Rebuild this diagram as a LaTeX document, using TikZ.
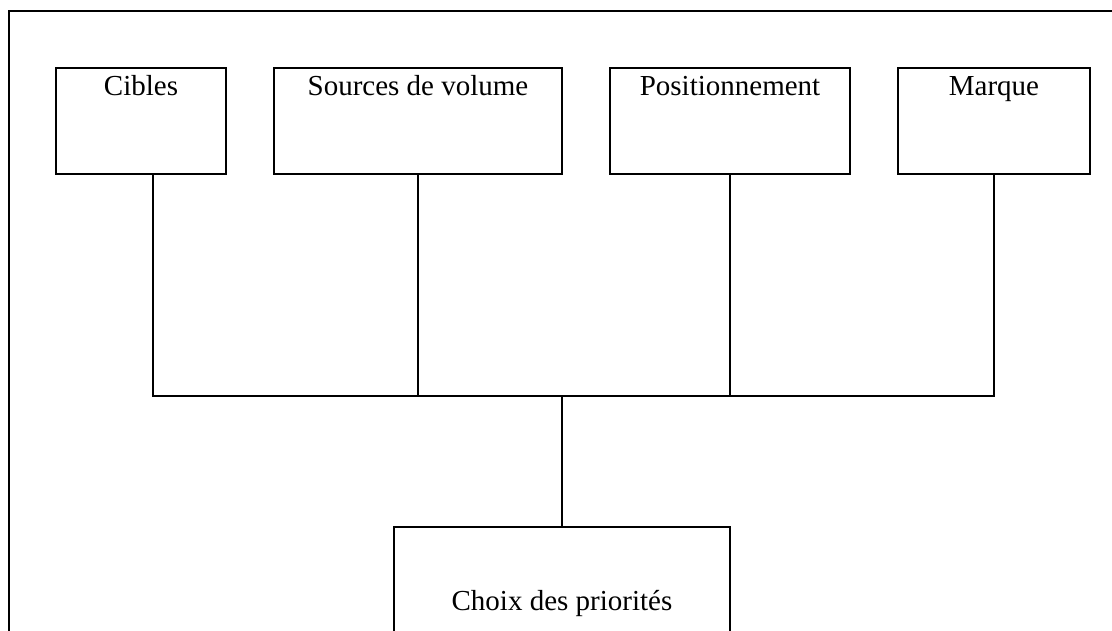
\documentclass[tikz,border=0pt]{standalone}
\usepackage{fontspec}
\setmainfont{Liberation Serif}
\begin{document}
\begin{tikzpicture}[x=1pt,y=-1pt,
  line width=2.8pt,
  every node/.style={outer sep=0pt},
  boxnode/.style={draw, rectangle, inner sep=0pt, anchor=north west, minimum height=106pt},
  lbl/.style={anchor=base, inner sep=0pt, font=\fontsize{29}{34}\selectfont}]
\useasboundingbox (0,0) rectangle (1112,630);
\fill[white] (0,0) rectangle (1112,630);
% outer frame (only top and left visible)
\coordinate (ftl) at (9,11);
\draw (ftl |- 0,640) -- (ftl) -- (1130,11);
% top boxes
\node[boxnode, minimum width=170pt] (cib) at (56,68) {};
\node[boxnode, minimum width=288pt] (src) at (274,68) {};
\node[boxnode, minimum width=240pt] (pos) at (610,68) {};
\node[boxnode, minimum width=192pt] (mar) at (898,68) {};
\node[lbl] (tcib) at (141,95) {Cibles};
\node[lbl] (tsrc) at (418,95) {Sources de volume};
\node[lbl] (tpos) at (730,95) {Positionnement};
\node[lbl] (tmar) at (994,95) {Marque};
% bottom box (open at the bottom)
\node[rectangle, inner sep=0pt, anchor=north west, minimum width=336pt, minimum height=113pt] (choix) at (394,527) {};
\draw (choix.south west) -- (choix.north west) -- (choix.north east) -- (choix.south east);
\node[lbl] (tchoix) at (562,610) {Choix des priorités};
% connectors
\coordinate (bus) at (562,396);
\draw ([xshift=97pt]cib.south west) |- (bus) -| (mar.south);
\draw (src.south) -- (src.south |- bus);
\draw (pos.south) -- (pos.south |- bus);
\draw (bus) -- (choix.north);
\end{tikzpicture}
\end{document}
